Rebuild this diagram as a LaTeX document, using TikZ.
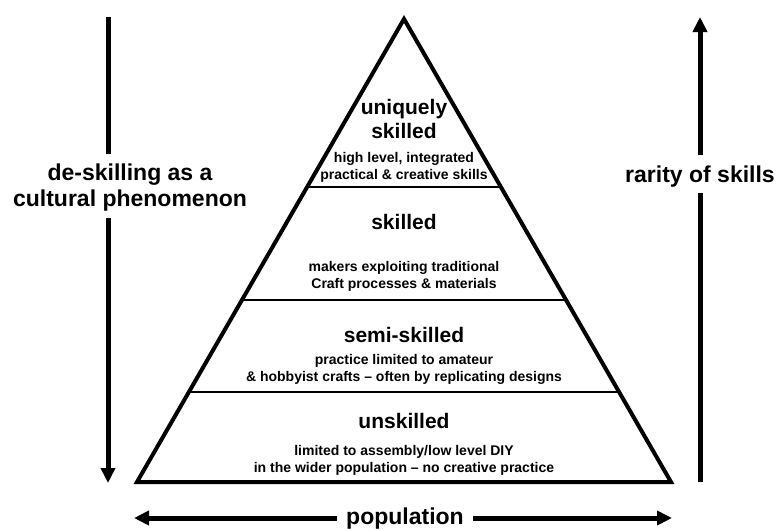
\documentclass[tikz,border=0pt]{standalone}
\usepackage{fontspec}
\setmainfont{Liberation Sans}
\usetikzlibrary{arrows.meta,calc}
\begin{document}
\begin{tikzpicture}[x=1pt,y=-1pt,
  bigtxt/.style={font=\bfseries\fontsize{23}{26}\selectfont,align=center,inner sep=0pt},
  ttl/.style={font=\bfseries\fontsize{21}{24}\selectfont,align=center,inner sep=0pt},
  desc/.style={font=\bfseries\fontsize{14}{17}\selectfont,align=center,inner sep=0pt},
  pyr/.style={line width=4pt,line join=miter},
  divider/.style={line width=2pt},
  bigarrow/.style={line width=5pt,-{Triangle[length=15pt,width=14pt]}},
  bar/.style={line width=5pt}]
\useasboundingbox (0,0) rectangle (777,530);
% pyramid
\coordinate (apex) at (404,19);
\coordinate (bl) at (137,482);
\coordinate (br) at (671,482);
\draw[pyr] (apex) -- (bl) -- (br) -- cycle;
\coordinate (l1) at ($(apex)!0.3634!(bl)$);
\coordinate (r1) at ($(apex)!0.3634!(br)$);
\coordinate (l2) at ($(apex)!0.6065!(bl)$);
\coordinate (r2) at ($(apex)!0.6065!(br)$);
\coordinate (l3) at ($(apex)!0.8065!(bl)$);
\coordinate (r3) at ($(apex)!0.8065!(br)$);
\draw[divider] (l1) -- (r1);
\draw[divider] (l2) -- (r2);
\draw[divider] (l3) -- (r3);
% layer texts
\node[ttl] (t1) at (404,119) {uniquely\\skilled};
\node[desc] (d1) at (404,167) {high level, integrated\\practical \& creative skills};
\node[ttl] (t2) at (404,222) {skilled};
\node[desc] (d2) at (404,276) {makers exploiting traditional\\Craft processes \& materials};
\node[ttl] (t3) at (404,335) {semi-skilled};
\node[desc] (d3) at (404,369) {practice limited to amateur\\\& hobbyist crafts -- often by replicating designs};
\node[ttl] (t4) at (404,421) {unskilled};
\node[desc] (d4) at (404,460) {limited to assembly/low level DIY\\in the wider population -- no creative practice};
% left arrow
\node[bigtxt] (lt) at (130,188) {de-skilling as a\\cultural phenomenon};
\coordinate (la) at (108,17);
\coordinate (lb) at (108,154);
\coordinate (lc) at (108,218);
\coordinate (ld) at (108,483);
\draw[bar] (la) -- (lb);
\draw[bigarrow] (lc) -- (ld);
% right arrow
\node[bigtxt] (rt) at (700,177) {rarity of skills};
\coordinate (ra) at (700,17);
\coordinate (rb) at (700,155);
\coordinate (rc) at (700,193);
\coordinate (rd) at (700,482);
\draw[bigarrow] (rb) -- (ra);
\draw[bar] (rc) -- (rd);
% bottom arrow
\node[bigtxt,inner xsep=9pt] (pop) at (405,519) {population};
\coordinate (bleft) at (134,518);
\coordinate (bright) at (672,518);
\draw[bigarrow] (pop.west |- bleft) -- (bleft);
\draw[bigarrow] (pop.east |- bright) -- (bright);
\end{tikzpicture}
\end{document}
